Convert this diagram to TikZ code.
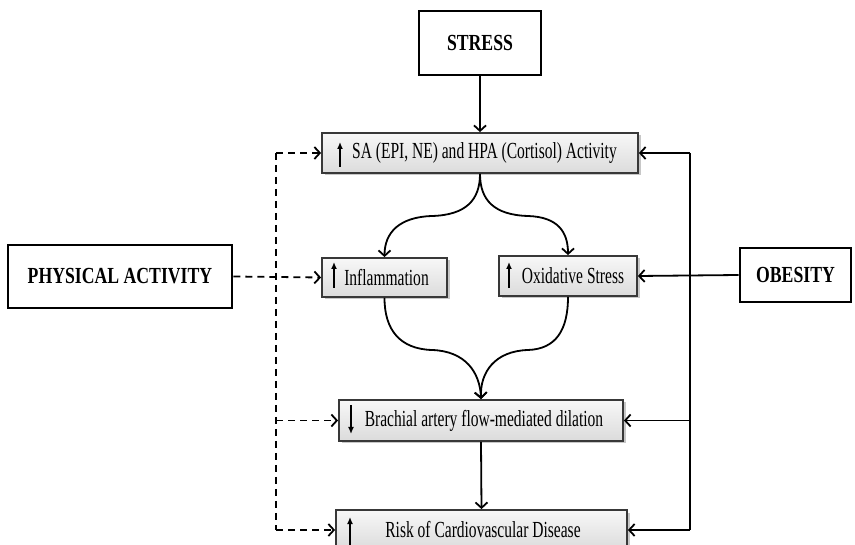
\documentclass[tikz,border=0pt]{standalone}
\usepackage{fontspec}
\setmainfont[FakeStretch=0.675]{Liberation Serif}
\newfontfamily\boldlab[FakeStretch=0.77]{Liberation Serif}
\usetikzlibrary{arrows.meta,shadows}
\begin{document}
\begin{tikzpicture}[x=1pt,y=-1pt,
  graybox/.style={draw=black!78, line width=1.8pt, top color=gray!6, bottom color=gray!28,
    inner sep=0pt, drop shadow={shadow xshift=2.5pt, shadow yshift=-2.5pt, fill=black, opacity=0.22},
    font=\fontsize{23}{26}\selectfont},
  whitebox/.style={draw=black, line width=2.8pt, fill=white, inner sep=0pt,
    font=\boldlab\bfseries\fontsize{23}{26}\selectfont},
  conn/.style={line width=1.8pt, -{Straight Barb[length=5.5pt,width=12pt,line width=1.8pt]}},
  dconn/.style={conn, dash pattern=on 7pt off 5pt},
  plain/.style={line width=1.8pt},
  dplain/.style={line width=1.8pt, dash pattern=on 7pt off 5pt},
  uparr/.style={line width=1.5pt, -{Latex[length=7pt,width=6pt]}}]
\useasboundingbox (0,0) rectangle (855,545);

% white boxes
\node[whitebox, minimum width=122pt, minimum height=64pt] (stress) at (480,43) {STRESS};
\node[whitebox, minimum width=224pt, minimum height=63pt] (pa) at (120,276.5) {PHYSICAL ACTIVITY};
\node[whitebox, minimum width=111pt, minimum height=54pt] (obes) at (795.5,275) {OBESITY};

% gray boxes
\node[graybox, minimum width=316pt, minimum height=40pt] (sa) at (480,153) {\hspace*{9pt}SA (EPI, NE) and HPA (Cortisol) Activity};
\node[graybox, minimum width=125pt, minimum height=39pt] (inf) at (384.5,277.5) {\hspace*{4pt}Inflammation};
\node[graybox, minimum width=138pt, minimum height=40pt] (oxi) at (568,276) {\hspace*{10pt}Oxidative Stress};
\node[graybox, minimum width=284pt, minimum height=41pt] (bra) at (481,420.5) {\hspace*{6pt}Brachial artery flow-mediated dilation};
\node[graybox, minimum width=291pt, minimum height=40pt] (risk) at (481.5,530) {\hspace*{3pt}Risk of Cardiovascular Disease};

% small arrows inside boxes
\draw[uparr] (340,167) -- (340,142);
\draw[uparr] (334,288) -- (334,262);
\draw[uparr] (509,288) -- (509,262);
\draw[uparr] (351,405) -- (351,434);
\draw[uparr] (350,545) -- (350,517);

% main flow
\draw[conn] (stress.south) -- (sa.north);
\draw[conn] (sa.south) .. controls (480,200) and (466,215) .. (432,216)
  .. controls (400,217) and (384.5,232) .. (inf.north);
\draw[conn] (sa.south) .. controls (480,200) and (494,215) .. (528,216)
  .. controls (558,217) and (568,232) .. (oxi.north);
\draw[conn] (inf.south) .. controls (384.5,330) and (400,349) .. (432,350)
  .. controls (465,351) and (480,372) .. (bra.north);
\draw[conn] (oxi.south) .. controls (568,330) and (556,349) .. (528,350)
  .. controls (495,351) and (480,372) .. (bra.north);
\draw[conn] (bra.south) -- (risk.north);

% physical activity (dashed)
\coordinate (dtop) at (276,153);
\coordinate (dmid) at (276,420.5);
\coordinate (dbot) at (276,530);
\draw[dconn] (pa.east) -- (inf.west);
\draw[dplain] (dtop) -- (dbot);
\draw[dconn] (dtop) -- (sa.west);
\draw[dconn] (dmid) -- (bra.west);
\draw[dconn] (dbot) -- (risk.west);

% obesity (solid)
\coordinate (rtop) at (690,153);
\coordinate (rmid) at (690,420.5);
\coordinate (rbot) at (690,530);
\draw[conn] (obes.west) -- (oxi.east);
\draw[plain] (rtop) -- (rbot);
\draw[conn] (rtop) -- (sa.east);
\draw[conn] (rmid) -- (bra.east);
\draw[conn] (rbot) -- (risk.east);
\end{tikzpicture}
\end{document}
